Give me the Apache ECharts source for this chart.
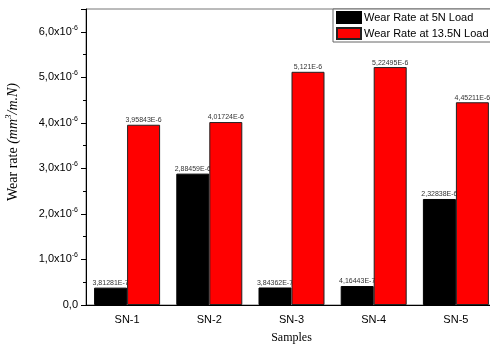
<!DOCTYPE html>
<html>
<head>
<meta charset="utf-8">
<script src="https://cdn.jsdelivr.net/npm/echarts@6/dist/echarts.min.js"></script>
<style>
  html, body { margin: 0; padding: 0; background: #fff; }
  #chart { width: 490px; height: 346px; }
</style>
</head>
<body>
<div id="chart"></div>
<script>
// Wear rate of five samples under two loads (mm^3/m.N)
const categories = ['SN-1', 'SN-2', 'SN-3', 'SN-4', 'SN-5'];
const load5N = [3.81281e-7, 2.88459e-6, 3.84362e-7, 4.16443e-7, 2.32838e-6];
const load135N = [3.95843e-6, 4.01724e-6, 5.121e-6, 5.22495e-6, 4.45211e-6];
const seriesNames = ['Wear Rate at 5N Load', 'Wear Rate at 13.5N Load'];

const SANS = '"Liberation Sans", Arial, sans-serif';
const SERIF = '"Liberation Serif", "Times New Roman", serif';

// 3.95843e-6 -> "3,95843E-6"
function sciLabel(v) {
  return v.toExponential().replace('.', ',').replace('e', 'E');
}

const chart = echarts.init(document.getElementById('chart'));
chart.setOption({
  animation: false,
  backgroundColor: '#fff',
  grid: {
    left: 86, top: 9, width: 411, height: 296,
    outerBoundsMode: 'none',
    containLabel: false,
    show: true, borderColor: '#777', borderWidth: 1, backgroundColor: '#fff'
  },
  legend: {
    orient: 'vertical',
    left: 333, top: 9,
    padding: [2, 6, 2, 3],
    itemGap: 3,
    itemWidth: 24, itemHeight: 11,
    icon: 'rect',
    borderColor: '#666', borderWidth: 1,
    backgroundColor: '#fff',
    textStyle: { fontFamily: SANS, fontSize: 11, color: '#000', padding: [0, 0, 0, -2] },
    data: seriesNames
  },
  xAxis: [
    {
      type: 'category',
      data: categories,
      name: 'Samples',
      nameLocation: 'middle',
      nameGap: 27,
      nameTextStyle: { fontFamily: SERIF, fontSize: 12, color: '#000' },
      axisLine: { lineStyle: { color: '#000', width: 1 } },
      axisTick: { alignWithLabel: true, length: 5, lineStyle: { color: '#000' } },
      axisLabel: { fontFamily: SANS, fontSize: 11, color: '#000', margin: 9 }
    },
    {
      // boundary ticks between categories
      type: 'category',
      data: categories,
      position: 'bottom',
      axisLine: { show: false },
      axisTick: { length: 3, lineStyle: { color: '#000' } },
      axisLabel: { show: false }
    }
  ],
  yAxis: {
    type: 'value',
    min: 0,
    max: 6.5e-6,
    interval: 1e-6,
    splitLine: { show: false },
    axisLine: { show: true, lineStyle: { color: '#000', width: 1 } },
    axisTick: { show: true, length: 5, lineStyle: { color: '#000' } },
    minorTick: { show: true, splitNumber: 2, length: 3, lineStyle: { color: '#000' } },
    axisLabel: {
      margin: 8,
      showMaxLabel: false,
      formatter: function (v) {
        if (v === 0) return '{m|0,0}';
        return '{m|' + (v / 1e-6).toFixed(1).replace('.', ',') + 'x10}{s|-6}';
      },
      rich: {
        m: { fontFamily: SANS, fontSize: 11, color: '#000' },
        s: { fontFamily: SANS, fontSize: 7, color: '#000', padding: [0, 0, 8, 0] }
      }
    }
  },
  graphic: [
    {
      type: 'text',
      x: 13, y: 142,
      rotation: Math.PI / 2,
      style: {
        text: '{t|Wear rate }{i|(mm}{s|3}{i|/m.N)}',
        align: 'center',
        verticalAlign: 'middle',
        rich: {
          t: { fontFamily: SERIF, fontSize: 14, fill: '#000' },
          i: { fontFamily: SERIF, fontSize: 14, fontStyle: 'italic', fill: '#000' },
          s: { fontFamily: SERIF, fontSize: 9, fontStyle: 'italic', fill: '#000', padding: [0, 0, 9, 0] }
        }
      }
    }
  ],
  series: [
    {
      name: seriesNames[0],
      type: 'bar',
      data: load5N,
      barWidth: 33,
      barGap: '0%',
      z: 2,
      itemStyle: { color: '#000', borderColor: '#000', borderWidth: 1 },
      label: {
        show: true, position: 'top', distance: 1,
        fontFamily: SANS, fontSize: 7, color: '#333',
        formatter: function (p) { return sciLabel(p.value); }
      }
    },
    {
      name: seriesNames[1],
      type: 'bar',
      data: load135N,
      barWidth: 33,
      barGap: '0%',
      z: 3,
      itemStyle: { color: '#ff0000', borderColor: '#222', borderWidth: 1 },
      label: {
        show: true, position: 'top', distance: 1,
        fontFamily: SANS, fontSize: 7, color: '#333',
        formatter: function (p) { return sciLabel(p.value); }
      }
    }
  ]
});
</script>
</body>
</html>
